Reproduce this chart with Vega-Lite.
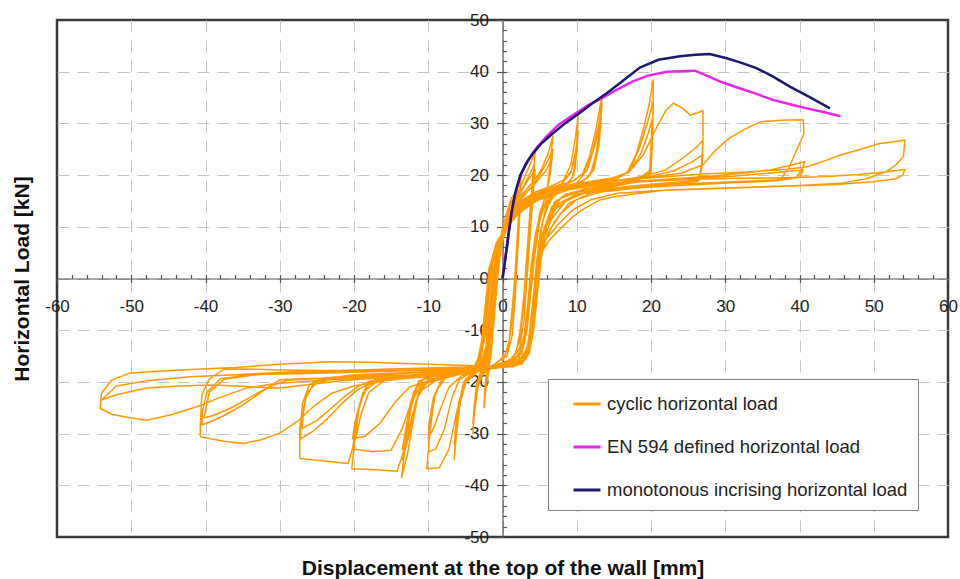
{
"$schema":"https://vega.github.io/schema/vega-lite/v6.json",
"width":891,"height":517,
"autosize":{"type":"none"},
"padding":{"left":57,"top":20,"right":12,"bottom":42},
"background":"white",
"config":{"view":{"stroke":"#3a3a3a","strokeWidth":2.5},"font":"Liberation Sans"},
"resolve":{"axis":{"x":"independent","y":"independent"}},
"datasets":{
"mono":[{"x":0,"y":0},{"x":0.3,"y":3},{"x":0.6,"y":6},{"x":0.95,"y":10},{"x":1.3,"y":13.5},{"x":1.7,"y":16.5},{"x":2.4,"y":20},{"x":3.2,"y":22.3},{"x":4.1,"y":24.2},{"x":5.3,"y":26.2},{"x":6.8,"y":28.1},{"x":8.5,"y":30.1},{"x":10.4,"y":32},{"x":12.2,"y":34},{"x":14,"y":35.8},{"x":16,"y":38},{"x":18.5,"y":40.8},{"x":21,"y":42.3},{"x":23.9,"y":43},{"x":26,"y":43.3},{"x":27.9,"y":43.4},{"x":30.2,"y":42.6},{"x":32,"y":41.8},{"x":34.2,"y":40.7},{"x":36.5,"y":39},{"x":38.7,"y":37.1},{"x":41.5,"y":35},{"x":44.1,"y":32.9}],
"en594":[{"x":0,"y":0},{"x":0.3,"y":3},{"x":0.6,"y":6.5},{"x":1,"y":10.5},{"x":1.4,"y":14},{"x":1.9,"y":17.5},{"x":2.6,"y":20.5},{"x":3.5,"y":23},{"x":4.6,"y":25.3},{"x":6,"y":27.6},{"x":7.6,"y":29.8},{"x":9.5,"y":31.6},{"x":11.5,"y":33.5},{"x":13.5,"y":35},{"x":15.5,"y":36.6},{"x":17.5,"y":38.1},{"x":19.5,"y":39.2},{"x":22.1,"y":40},{"x":25.9,"y":40.2},{"x":27.9,"y":39},{"x":29.5,"y":38},{"x":31.5,"y":37},{"x":34,"y":35.8},{"x":36.5,"y":34.5},{"x":39,"y":33.6},{"x":41,"y":32.9},{"x":43.5,"y":32.1},{"x":45.5,"y":31.4}],
"cyclic":[
{"x":0,"y":0},{"x":0.3,"y":4},{"x":0.7,"y":8},{"x":1.1,"y":12},{"x":1.6,"y":15.5},{"x":2.1,"y":18},{"x":2.5,"y":20},
{"x":2.3,"y":15},{"x":2,"y":8},{"x":1.7,"y":1},{"x":1.3,"y":-6},{"x":0.9,"y":-12},{"x":0.3,"y":-15},{"x":-0.8,"y":-16.3},{"x":-1.8,"y":-17.5},{"x":-2.2,"y":-21},{"x":-2.5,"y":-25},
{"x":-2.3,"y":-20},{"x":-1.8,"y":-16.5},{"x":-1.4,"y":-11},{"x":-1,"y":-4},{"x":-0.6,"y":3},{"x":-0.1,"y":9},{"x":0.5,"y":12.5},{"x":1.2,"y":15.5},{"x":1.9,"y":17},{"x":2.4,"y":18.5},
{"x":2.2,"y":13},{"x":1.9,"y":6},{"x":1.6,"y":-2},{"x":1.2,"y":-9},{"x":0.7,"y":-14},{"x":-0.5,"y":-16},{"x":-1.7,"y":-17.2},{"x":-2.1,"y":-19.5},{"x":-2.4,"y":-22},
{"x":-2.2,"y":-18.5},{"x":-1.6,"y":-15.5},{"x":-1.2,"y":-9},{"x":-0.8,"y":-2},{"x":-0.3,"y":5},{"x":0.3,"y":10},{"x":1,"y":14},{"x":1.8,"y":16.5},{"x":2.5,"y":17.5},
{"x":2.3,"y":12},{"x":2,"y":4},{"x":1.7,"y":-4},{"x":1.3,"y":-11},{"x":0.6,"y":-15},{"x":-0.7,"y":-16.2},{"x":-1.9,"y":-17.5},{"x":-2.3,"y":-21},
{"x":-2.1,"y":-17.5},{"x":-1.5,"y":-14},{"x":-1.1,"y":-7},{"x":-0.6,"y":1},{"x":0,"y":8},{"x":0.8,"y":12.5},
{"x":1.8,"y":15.5},{"x":2.8,"y":19},{"x":3.7,"y":22},{"x":4.4,"y":24.5},
{"x":4.1,"y":20},{"x":3.7,"y":13},{"x":3.3,"y":5},{"x":2.9,"y":-3},{"x":2.4,"y":-10},{"x":1.8,"y":-14.5},{"x":0.8,"y":-16},{"x":-1,"y":-16.8},{"x":-2.5,"y":-17.8},{"x":-3.3,"y":-21},{"x":-3.8,"y":-26},{"x":-4,"y":-30},
{"x":-3.7,"y":-24},{"x":-3.2,"y":-19},{"x":-2.2,"y":-17},{"x":-1.6,"y":-14},{"x":-1.2,"y":-7},{"x":-0.8,"y":0},{"x":-0.2,"y":6},{"x":0.6,"y":11},{"x":1.6,"y":14.5},{"x":2.7,"y":17.5},{"x":3.6,"y":20},{"x":4.3,"y":22},
{"x":4,"y":17.5},{"x":3.6,"y":10},{"x":3.2,"y":2},{"x":2.8,"y":-6},{"x":2.3,"y":-12},{"x":1.5,"y":-15.3},{"x":0,"y":-16.4},{"x":-1.8,"y":-17.3},{"x":-3,"y":-19},{"x":-3.6,"y":-23},{"x":-4,"y":-28},
{"x":-3.6,"y":-22},{"x":-3,"y":-18},{"x":-2,"y":-16.5},{"x":-1.5,"y":-12},{"x":-1.1,"y":-5},{"x":-0.6,"y":2},{"x":0,"y":8},{"x":0.9,"y":12.5},{"x":2,"y":15.5},{"x":3.2,"y":18.5},{"x":4.4,"y":21},
{"x":4.1,"y":16},{"x":3.7,"y":8},{"x":3.3,"y":0},{"x":2.9,"y":-8},{"x":2.3,"y":-13.5},{"x":1.2,"y":-15.8},{"x":-0.5,"y":-16.6},{"x":-2.2,"y":-17.6},{"x":-3.2,"y":-20},{"x":-3.9,"y":-26},
{"x":-3.5,"y":-20.5},{"x":-2.8,"y":-17.5},{"x":-1.8,"y":-16},{"x":-1.4,"y":-10},{"x":-1,"y":-3},{"x":-0.5,"y":4},{"x":0.2,"y":9},{"x":1.2,"y":13},
{"x":2.5,"y":16},{"x":4,"y":18.5},{"x":5.2,"y":21},{"x":6.1,"y":24},{"x":6.8,"y":27.5},
{"x":6.4,"y":22},{"x":6,"y":17},{"x":5.3,"y":13.5},{"x":4.5,"y":9},{"x":3.9,"y":3},{"x":3.4,"y":-5},{"x":2.9,"y":-11},{"x":2.2,"y":-15},{"x":0.5,"y":-16.5},{"x":-2,"y":-17.2},{"x":-4,"y":-18},{"x":-5.2,"y":-20},{"x":-5.8,"y":-25},{"x":-6.3,"y":-30},{"x":-6.5,"y":-35},
{"x":-6.2,"y":-30},{"x":-5.7,"y":-24},{"x":-4.8,"y":-19.5},{"x":-3,"y":-17.5},{"x":-2,"y":-16.3},{"x":-1.5,"y":-11},{"x":-1.1,"y":-4},{"x":-0.6,"y":3},{"x":0.1,"y":8.5},{"x":1,"y":12.5},{"x":2.3,"y":15.5},{"x":3.8,"y":17.5},{"x":5,"y":20},{"x":6,"y":22.5},{"x":6.8,"y":25},
{"x":6.4,"y":20},{"x":5.8,"y":16},{"x":5,"y":12.5},{"x":4.3,"y":7},{"x":3.8,"y":0},{"x":3.3,"y":-8},{"x":2.7,"y":-13.5},{"x":1.5,"y":-15.8},{"x":-1,"y":-16.7},{"x":-3.5,"y":-17.8},{"x":-5,"y":-19.5},{"x":-5.8,"y":-24},{"x":-6.5,"y":-32},
{"x":-6,"y":-26},{"x":-5.3,"y":-21},{"x":-4,"y":-18.5},{"x":-2.5,"y":-17},{"x":-1.7,"y":-14},{"x":-1.3,"y":-7},{"x":-0.8,"y":0},{"x":-0.2,"y":6},{"x":0.7,"y":11},{"x":2,"y":14.5},{"x":3.5,"y":17},{"x":4.8,"y":19},{"x":5.9,"y":21},{"x":6.7,"y":23.5},
{"x":6.3,"y":19},{"x":5.6,"y":15},{"x":4.8,"y":11},{"x":4.2,"y":5},{"x":3.7,"y":-2},{"x":3.2,"y":-10},{"x":2.5,"y":-14.5},{"x":1,"y":-16},{"x":-1.5,"y":-17},{"x":-4,"y":-18.2},{"x":-5.3,"y":-20.5},{"x":-6,"y":-25},{"x":-6.4,"y":-30},
{"x":-5.9,"y":-24},{"x":-5,"y":-19.5},{"x":-3.5,"y":-17.8},{"x":-2.2,"y":-16.5},{"x":-1.6,"y":-12},{"x":-1.2,"y":-5},{"x":-0.7,"y":2},{"x":0,"y":8},{"x":1,"y":12},
{"x":2.5,"y":15},{"x":4.5,"y":16.8},{"x":6.5,"y":17.8},{"x":8.2,"y":19},{"x":9.2,"y":22},{"x":9.8,"y":27},{"x":10.2,"y":31.6},
{"x":10,"y":26},{"x":9.6,"y":20},{"x":8.5,"y":17.8},{"x":7,"y":16.5},{"x":5.5,"y":14},{"x":4.6,"y":9},{"x":4,"y":2},{"x":3.5,"y":-6},{"x":3,"y":-12},{"x":2.2,"y":-15.5},{"x":0,"y":-16.7},{"x":-3,"y":-17.5},{"x":-6,"y":-18.3},{"x":-8,"y":-19},{"x":-9.2,"y":-23},{"x":-9.8,"y":-30},{"x":-10.2,"y":-36.8},
{"x":-8.5,"y":-36.6},{"x":-7.2,"y":-33},{"x":-6.2,"y":-26},{"x":-5.2,"y":-20.5},{"x":-3.5,"y":-18.2},{"x":-2.2,"y":-16.8},{"x":-1.6,"y":-12},{"x":-1.2,"y":-5},{"x":-0.7,"y":2},{"x":0,"y":7.5},{"x":1.2,"y":12},{"x":3,"y":15.2},{"x":5.5,"y":17},{"x":8,"y":18.3},{"x":9.3,"y":21},{"x":9.9,"y":25},{"x":10.2,"y":28.5},
{"x":9.9,"y":23},{"x":9.4,"y":19.5},{"x":8,"y":17.5},{"x":6.5,"y":16},{"x":5.2,"y":12.5},{"x":4.4,"y":6},{"x":3.9,"y":-1},{"x":3.4,"y":-8},{"x":2.8,"y":-13.5},{"x":1.5,"y":-16},{"x":-1.5,"y":-17},{"x":-4.5,"y":-17.8},{"x":-7.5,"y":-18.8},{"x":-9,"y":-22},{"x":-9.7,"y":-28},{"x":-10,"y":-33.5},
{"x":-9,"y":-33},{"x":-7.8,"y":-29},{"x":-6.8,"y":-23},{"x":-5.8,"y":-19.5},{"x":-4,"y":-18},{"x":-2.5,"y":-16.8},{"x":-1.8,"y":-13},{"x":-1.4,"y":-6},{"x":-0.9,"y":1},{"x":-0.2,"y":7},{"x":0.9,"y":11.5},{"x":2.7,"y":15},{"x":5,"y":16.8},{"x":7.8,"y":18},{"x":9.2,"y":20.5},{"x":9.8,"y":23.5},{"x":10.1,"y":26.5},
{"x":9.8,"y":21.5},{"x":9.2,"y":18.8},{"x":7.6,"y":17.2},{"x":6,"y":15.6},{"x":5,"y":11},{"x":4.3,"y":4},{"x":3.8,"y":-3},{"x":3.3,"y":-10},{"x":2.6,"y":-14.5},{"x":1,"y":-16.3},{"x":-2,"y":-17.2},{"x":-5,"y":-18},{"x":-8,"y":-19},{"x":-9.3,"y":-23},{"x":-9.8,"y":-27},{"x":-10,"y":-31},
{"x":-9.3,"y":-29},{"x":-8.3,"y":-25},{"x":-7.2,"y":-21},{"x":-5.5,"y":-18.8},{"x":-3.5,"y":-17.7},{"x":-2.3,"y":-16.5},{"x":-1.7,"y":-11},{"x":-1.3,"y":-4},{"x":-0.8,"y":3},{"x":0,"y":8.5},{"x":1.3,"y":12.5},
{"x":3.5,"y":15.5},{"x":6.5,"y":17.5},{"x":9.5,"y":18.8},{"x":10.8,"y":20.3},{"x":11.8,"y":24},{"x":12.6,"y":29},{"x":13.1,"y":33},{"x":13.4,"y":35.5},
{"x":13.2,"y":30},{"x":12.6,"y":24},{"x":11.8,"y":20},{"x":10,"y":18},{"x":8,"y":17},{"x":6.5,"y":15.5},{"x":5.4,"y":11},{"x":4.7,"y":4},{"x":4.2,"y":-4},{"x":3.7,"y":-11},{"x":3.1,"y":-15},{"x":1.5,"y":-16.6},{"x":-2,"y":-17.4},{"x":-6,"y":-18},{"x":-9.5,"y":-18.8},{"x":-11.3,"y":-20},{"x":-12.3,"y":-25},{"x":-13,"y":-31},{"x":-13.6,"y":-38.5},
{"x":-12.8,"y":-34},{"x":-12.1,"y":-28},{"x":-11.3,"y":-22},{"x":-10,"y":-19.5},{"x":-7,"y":-18.8},{"x":-4.5,"y":-18},{"x":-2.6,"y":-17},{"x":-1.8,"y":-13},{"x":-1.4,"y":-6},{"x":-0.9,"y":1},{"x":-0.2,"y":7},{"x":1,"y":11.5},{"x":3,"y":15},{"x":6,"y":17.3},{"x":9.5,"y":18.8},{"x":11,"y":20.5},{"x":12.2,"y":25},{"x":13,"y":30},{"x":13.4,"y":34},
{"x":13.1,"y":28},{"x":12.4,"y":22},{"x":11.5,"y":19.5},{"x":9.5,"y":18},{"x":7.5,"y":16.8},{"x":6,"y":14.5},{"x":5.1,"y":9},{"x":4.5,"y":2},{"x":4,"y":-6},{"x":3.5,"y":-12.5},{"x":2.7,"y":-15.5},{"x":0.5,"y":-16.8},{"x":-3,"y":-17.5},{"x":-7,"y":-18.2},{"x":-10.5,"y":-19.2},{"x":-12,"y":-22},{"x":-12.8,"y":-28},{"x":-13.5,"y":-35},
{"x":-12.7,"y":-31},{"x":-11.9,"y":-25.5},{"x":-11,"y":-21},{"x":-9,"y":-19.3},{"x":-6,"y":-18.5},{"x":-3.5,"y":-17.5},{"x":-2.3,"y":-16},{"x":-1.7,"y":-10},{"x":-1.3,"y":-3},{"x":-0.7,"y":4},{"x":0.3,"y":9},{"x":1.8,"y":13},{"x":4,"y":15.8},{"x":7,"y":17.3},{"x":10,"y":18.5},{"x":11.4,"y":21},{"x":12.5,"y":26},{"x":13.3,"y":31},
{"x":13,"y":26},{"x":12.3,"y":21},{"x":11,"y":19},{"x":9,"y":17.5},{"x":7,"y":16.2},{"x":5.7,"y":13},{"x":4.9,"y":7},{"x":4.4,"y":0},{"x":3.9,"y":-8},{"x":3.3,"y":-13.5},{"x":2.2,"y":-16},{"x":-1,"y":-17},{"x":-4.5,"y":-17.8},{"x":-8.5,"y":-18.6},{"x":-11.3,"y":-19.8},{"x":-12.4,"y":-24},{"x":-13,"y":-29},{"x":-13.5,"y":-33},
{"x":-12.6,"y":-29},{"x":-11.6,"y":-23.5},{"x":-10.2,"y":-20},{"x":-7.5,"y":-18.8},{"x":-4.5,"y":-18},{"x":-2.7,"y":-16.8},{"x":-1.9,"y":-12},{"x":-1.5,"y":-5},{"x":-1,"y":2},{"x":-0.3,"y":7.5},{"x":0.8,"y":11.5},
{"x":2.6,"y":14.5},{"x":5,"y":16.5},{"x":8,"y":17.8},{"x":12,"y":18.8},{"x":15,"y":19.5},{"x":16.8,"y":20.5},{"x":18,"y":24},{"x":19,"y":29},{"x":19.8,"y":34},{"x":20.3,"y":38.4},
{"x":20.3,"y":33},{"x":20.2,"y":27},{"x":20,"y":20.5},{"x":18,"y":19.2},{"x":15,"y":18.3},{"x":12,"y":17.5},{"x":9,"y":16.5},{"x":7,"y":14.8},{"x":5.8,"y":10},{"x":5,"y":3},{"x":4.5,"y":-5},{"x":4,"y":-11},{"x":3.4,"y":-15},{"x":2,"y":-16.8},{"x":-2,"y":-17.5},{"x":-7,"y":-18},{"x":-12,"y":-18.6},{"x":-16,"y":-19.2},{"x":-18.2,"y":-20},{"x":-19.3,"y":-25},{"x":-19.9,"y":-31},{"x":-20.3,"y":-36.8},
{"x":-17,"y":-37},{"x":-14.2,"y":-37.3},{"x":-13,"y":-32},{"x":-12.2,"y":-27},{"x":-11.3,"y":-22},{"x":-9,"y":-19.8},{"x":-6,"y":-18.6},{"x":-3.5,"y":-17.5},{"x":-2.3,"y":-16},{"x":-1.7,"y":-10},{"x":-1.3,"y":-3},{"x":-0.7,"y":4},{"x":0.4,"y":9},{"x":2,"y":13},{"x":4.5,"y":15.8},{"x":8,"y":17.5},{"x":12,"y":18.5},{"x":15.5,"y":19.3},{"x":17.2,"y":21},{"x":18.5,"y":25.5},{"x":19.6,"y":30.5},{"x":20.3,"y":34.2},
{"x":20.2,"y":29},{"x":20,"y":21},{"x":18,"y":19},{"x":15,"y":18},{"x":11.5,"y":17.2},{"x":8.5,"y":16.3},{"x":6.6,"y":13.8},{"x":5.5,"y":8},{"x":4.8,"y":1},{"x":4.3,"y":-7},{"x":3.8,"y":-12.5},{"x":3,"y":-15.8},{"x":1,"y":-17},{"x":-3,"y":-17.7},{"x":-8,"y":-18.3},{"x":-13,"y":-19},{"x":-16.8,"y":-19.8},{"x":-18.8,"y":-22},{"x":-19.6,"y":-27},{"x":-20.2,"y":-33},
{"x":-17.5,"y":-33.5},{"x":-15,"y":-33.2},{"x":-13.5,"y":-29},{"x":-12.3,"y":-24},{"x":-11,"y":-20.6},{"x":-8,"y":-19.3},{"x":-5,"y":-18.3},{"x":-3,"y":-17},{"x":-2,"y":-13},{"x":-1.6,"y":-6},{"x":-1.1,"y":1},{"x":-0.4,"y":6.5},{"x":0.9,"y":11},{"x":3,"y":14.8},{"x":6.5,"y":17},{"x":10.5,"y":18.3},{"x":14.5,"y":19.2},{"x":17,"y":20.5},{"x":18.6,"y":24},{"x":19.6,"y":28},{"x":20.2,"y":31},
{"x":20,"y":26},{"x":19.8,"y":20},{"x":17.5,"y":18.5},{"x":14,"y":17.5},{"x":10.5,"y":16.8},{"x":7.8,"y":15.5},{"x":6.2,"y":12},{"x":5.3,"y":5},{"x":4.7,"y":-3},{"x":4.2,"y":-10},{"x":3.6,"y":-14.5},{"x":2.4,"y":-16.3},{"x":-1,"y":-17.2},{"x":-6,"y":-18},{"x":-11,"y":-18.7},{"x":-15.5,"y":-19.4},{"x":-18,"y":-20.5},{"x":-19.2,"y":-24},{"x":-19.9,"y":-28},{"x":-20.2,"y":-31},
{"x":-18.5,"y":-30.5},{"x":-16.5,"y":-28},{"x":-14.5,"y":-24},{"x":-12.5,"y":-21},{"x":-10,"y":-19.8},{"x":-6.5,"y":-18.7},{"x":-3.8,"y":-17.6},{"x":-2.4,"y":-16},{"x":-1.8,"y":-9},{"x":-1.4,"y":-2},{"x":-0.8,"y":4},{"x":0.2,"y":8.5},{"x":1.6,"y":12.5},
{"x":4,"y":15.5},{"x":7.5,"y":17.5},{"x":11,"y":18.5},{"x":14.5,"y":19.3},{"x":17,"y":20.5},{"x":19,"y":24},{"x":20.5,"y":28.5},{"x":22,"y":32.5},{"x":23,"y":33.9},{"x":24.2,"y":33},{"x":25.3,"y":31.6},{"x":26.2,"y":32},{"x":27,"y":32.5},
{"x":27,"y":28.5},{"x":27,"y":26.8},{"x":26.8,"y":22},{"x":26.6,"y":19.7},{"x":23,"y":19.2},{"x":19,"y":18.8},{"x":15,"y":18},{"x":11,"y":17.3},{"x":8,"y":15.8},{"x":6.3,"y":12.5},{"x":5.2,"y":8},{"x":4.5,"y":2},{"x":4,"y":-6},{"x":3.6,"y":-12},{"x":3,"y":-15.5},{"x":1.5,"y":-17},{"x":-3,"y":-17.6},{"x":-9,"y":-18},{"x":-15,"y":-18.5},{"x":-20,"y":-18.8},{"x":-24,"y":-19.2},{"x":-26,"y":-20.5},{"x":-26.9,"y":-24},{"x":-27.3,"y":-29},{"x":-27.3,"y":-34.8},
{"x":-24,"y":-35.3},{"x":-20.8,"y":-35.8},{"x":-19.8,"y":-31},{"x":-19,"y":-26},{"x":-18,"y":-22},{"x":-16,"y":-19.8},{"x":-12,"y":-19.2},{"x":-8,"y":-18.7},{"x":-5,"y":-18},{"x":-3,"y":-17},{"x":-2.2,"y":-13},{"x":-1.8,"y":-6},{"x":-1.3,"y":1},{"x":-0.6,"y":6.5},{"x":0.8,"y":11},{"x":3,"y":14.5},{"x":7,"y":16.8},{"x":11,"y":18},{"x":15,"y":18.8},{"x":19,"y":19.8},{"x":22,"y":21},{"x":24.5,"y":23.5},{"x":26.2,"y":25.5},{"x":27,"y":26.8},
{"x":26.9,"y":23},{"x":26.5,"y":19},{"x":22.5,"y":18.5},{"x":18,"y":18},{"x":13.5,"y":17.2},{"x":10,"y":16.3},{"x":7.6,"y":14.5},{"x":6,"y":11},{"x":5,"y":6},{"x":4.4,"y":0},{"x":3.9,"y":-7},{"x":3.5,"y":-12.5},{"x":2.9,"y":-15.5},{"x":1.5,"y":-16.8},{"x":-2,"y":-17.4},{"x":-8,"y":-17.9},{"x":-14,"y":-18.3},{"x":-20,"y":-18.6},{"x":-24.5,"y":-19.5},{"x":-26.3,"y":-22},{"x":-27.1,"y":-27},{"x":-27.2,"y":-31},
{"x":-25.5,"y":-29.5},{"x":-23.5,"y":-27},{"x":-21.5,"y":-24},{"x":-19.5,"y":-21.5},{"x":-17,"y":-19.7},{"x":-13,"y":-19},{"x":-9,"y":-18.5},{"x":-5.5,"y":-18},{"x":-3.2,"y":-16.8},{"x":-2.3,"y":-11},{"x":-1.9,"y":-4},{"x":-1.4,"y":2.5},{"x":-0.5,"y":7.5},{"x":1,"y":11.5},{"x":3.5,"y":15},{"x":7.5,"y":17},{"x":11.5,"y":18.2},{"x":16,"y":19},{"x":20,"y":19.8},{"x":23,"y":20.8},{"x":25.5,"y":22.5},{"x":27,"y":24},
{"x":26.8,"y":21},{"x":26.3,"y":18.8},{"x":22,"y":18.2},{"x":17.5,"y":17.7},{"x":13,"y":17},{"x":9.5,"y":16},{"x":7.2,"y":13.5},{"x":5.7,"y":9.5},{"x":4.8,"y":4},{"x":4.3,"y":-3},{"x":3.8,"y":-10},{"x":3.4,"y":-14},{"x":2.6,"y":-16.2},{"x":-0.5,"y":-17.2},{"x":-5,"y":-17.7},{"x":-11,"y":-18.1},{"x":-17,"y":-18.5},{"x":-22,"y":-19},{"x":-25.5,"y":-20.5},{"x":-26.6,"y":-23.5},{"x":-27,"y":-29},
{"x":-25,"y":-27.5},{"x":-23,"y":-25},{"x":-21,"y":-22.5},{"x":-19,"y":-20.5},{"x":-16,"y":-19.5},{"x":-12,"y":-18.9},{"x":-8,"y":-18.5},{"x":-5,"y":-17.8},{"x":-3,"y":-16.5},{"x":-2.3,"y":-10},{"x":-1.9,"y":-3},{"x":-1.3,"y":3},{"x":-0.3,"y":8},{"x":1.5,"y":12},
{"x":4.5,"y":15.8},{"x":9,"y":17.8},{"x":14,"y":18.8},{"x":19,"y":19.5},{"x":24,"y":20.3},{"x":27,"y":22},{"x":28.5,"y":24.5},{"x":30.2,"y":26.8},{"x":32.5,"y":28.8},{"x":34.7,"y":30.3},{"x":37.5,"y":30.6},{"x":40.5,"y":30.7},
{"x":40.6,"y":28},{"x":39.6,"y":24.8},{"x":38.6,"y":21.5},{"x":37.4,"y":19.1},{"x":33,"y":18.8},{"x":28,"y":18.5},{"x":22,"y":18.2},{"x":16,"y":17.6},{"x":11.5,"y":16.8},{"x":8.5,"y":15},{"x":6.6,"y":11.5},{"x":5.4,"y":7},{"x":4.7,"y":1.5},{"x":4.2,"y":-6},{"x":3.7,"y":-12},{"x":3.2,"y":-15.3},{"x":2,"y":-16.7},{"x":-1,"y":-17.3},{"x":-8,"y":-17.5},{"x":-16,"y":-17.8},{"x":-24,"y":-17.8},{"x":-30,"y":-17.7},{"x":-35,"y":-17.5},{"x":-37.6,"y":-17.6},{"x":-39.5,"y":-19.5},{"x":-40.5,"y":-22.5},{"x":-40.7,"y":-28.3},{"x":-40.7,"y":-30.6},
{"x":-37.5,"y":-31.5},{"x":-34.9,"y":-31.9},{"x":-32.5,"y":-31.2},{"x":-30,"y":-29.9},{"x":-27.5,"y":-27.5},{"x":-25.5,"y":-24.8},{"x":-23,"y":-22.2},{"x":-20,"y":-20.8},{"x":-16,"y":-19.8},{"x":-12,"y":-19.2},{"x":-8,"y":-18.8},{"x":-5,"y":-18.2},{"x":-3.2,"y":-17},{"x":-2.5,"y":-12},{"x":-2.1,"y":-5},{"x":-1.6,"y":2},{"x":-0.7,"y":7},{"x":1,"y":11.5},{"x":3.8,"y":15},{"x":8,"y":17.2},{"x":13,"y":18.3},{"x":18,"y":18.8},{"x":23,"y":19.3},{"x":28,"y":19.8},{"x":32,"y":20.3},{"x":36,"y":21},{"x":38.5,"y":21.8},{"x":40.7,"y":22.6},
{"x":40.3,"y":21},{"x":39.5,"y":19.5},{"x":35,"y":18.8},{"x":29,"y":18.5},{"x":23,"y":18.1},{"x":17,"y":17.6},{"x":12,"y":16.6},{"x":9,"y":14.6},{"x":7,"y":11},{"x":5.8,"y":7.5},{"x":5,"y":3},{"x":4.5,"y":-3},{"x":4,"y":-9.5},{"x":3.5,"y":-14},{"x":2.6,"y":-16.3},{"x":-0.5,"y":-17.2},{"x":-7,"y":-17.6},{"x":-14,"y":-17.9},{"x":-21,"y":-18.2},{"x":-28,"y":-18.4},{"x":-34,"y":-18.6},{"x":-38,"y":-19.4},{"x":-39.8,"y":-22},{"x":-40.4,"y":-25.5},{"x":-40.5,"y":-28.3},
{"x":-39.8,"y":-28},{"x":-37.5,"y":-26.5},{"x":-35,"y":-24.5},{"x":-32.5,"y":-22},{"x":-30,"y":-19.6},{"x":-25,"y":-19.3},{"x":-19,"y":-19},{"x":-13,"y":-18.7},{"x":-8,"y":-18.4},{"x":-5,"y":-17.9},{"x":-3.3,"y":-16.8},{"x":-2.6,"y":-11},{"x":-2.1,"y":-4},{"x":-1.5,"y":2.5},{"x":-0.5,"y":7.5},{"x":1.5,"y":12},{"x":4.5,"y":15.3},{"x":9,"y":17.3},{"x":14,"y":18.3},{"x":20,"y":18.9},{"x":26,"y":19.4},{"x":31,"y":19.8},{"x":36,"y":20.4},{"x":40.5,"y":21},
{"x":40,"y":19.6},{"x":37,"y":18.9},{"x":31,"y":18.5},{"x":25,"y":18.1},{"x":19,"y":17.6},{"x":13.5,"y":16.8},{"x":10,"y":15.3},{"x":7.8,"y":12.5},{"x":6.2,"y":9},{"x":5.2,"y":5},{"x":4.7,"y":0},{"x":4.2,"y":-7.5},{"x":3.7,"y":-12.5},{"x":3.2,"y":-15.5},{"x":1.5,"y":-16.9},{"x":-2,"y":-17.3},{"x":-6,"y":-17.5},{"x":-13,"y":-17.8},{"x":-20,"y":-18},{"x":-27,"y":-18.2},{"x":-33,"y":-18.6},{"x":-37.5,"y":-19.5},{"x":-39.5,"y":-22},{"x":-40.2,"y":-27},
{"x":-39,"y":-26.5},{"x":-36.5,"y":-25},{"x":-34,"y":-23},{"x":-31.5,"y":-21},{"x":-29,"y":-19.7},{"x":-24,"y":-19.3},{"x":-18,"y":-19},{"x":-12,"y":-18.7},{"x":-7,"y":-18.3},{"x":-4,"y":-17.6},{"x":-2.9,"y":-15},{"x":-2.4,"y":-8},{"x":-1.9,"y":-1},{"x":-1.1,"y":5},{"x":0.3,"y":9.5},{"x":2.8,"y":13.5},
{"x":6.5,"y":16.5},{"x":11,"y":18},{"x":16,"y":19},{"x":21,"y":19.6},{"x":27,"y":20.2},{"x":33,"y":20.6},{"x":38,"y":21.1},{"x":41,"y":21.6},{"x":43.5,"y":22.8},{"x":45.5,"y":23.9},{"x":48,"y":24.9},{"x":50.8,"y":26.1},{"x":52.5,"y":26.4},{"x":54.2,"y":26.8},
{"x":54.1,"y":25.2},{"x":54,"y":23.6},{"x":53,"y":22},{"x":51.7,"y":20.7},{"x":49,"y":19.3},{"x":45.5,"y":18.4},{"x":40,"y":18},{"x":34,"y":17.7},{"x":28,"y":17.4},{"x":22,"y":17.1},{"x":18.5,"y":16.5},{"x":15,"y":15.8},{"x":13.1,"y":15.2},{"x":11,"y":13.5},{"x":9.5,"y":12},{"x":7.7,"y":9.5},{"x":6.2,"y":7.2},{"x":5,"y":4.5},{"x":4.6,"y":0},{"x":4.2,"y":-7},{"x":3.7,"y":-12.5},{"x":3.3,"y":-15},{"x":2.5,"y":-16.6},{"x":-1,"y":-17},{"x":-6,"y":-16.8},{"x":-12,"y":-16.5},{"x":-18,"y":-16.2},{"x":-23.2,"y":-16.1},{"x":-30,"y":-16.6},{"x":-36,"y":-17.2},{"x":-42,"y":-17.6},{"x":-47,"y":-18},{"x":-50.2,"y":-18.3},{"x":-52.6,"y":-19.6},{"x":-54,"y":-22.2},{"x":-54.2,"y":-25.1},
{"x":-52.5,"y":-26.3},{"x":-50,"y":-27},{"x":-47.9,"y":-27.4},{"x":-44.5,"y":-26.3},{"x":-41.2,"y":-24.8},{"x":-38,"y":-23},{"x":-34.5,"y":-21.2},{"x":-31,"y":-20.4},{"x":-27.7,"y":-20},{"x":-23,"y":-19.6},{"x":-18,"y":-19.2},{"x":-13,"y":-18.8},{"x":-8,"y":-18.4},{"x":-5,"y":-18},{"x":-3.5,"y":-17},{"x":-2.8,"y":-12},{"x":-2.3,"y":-5},{"x":-1.8,"y":2},{"x":-0.8,"y":7},{"x":1.2,"y":11.5},{"x":4.5,"y":15},{"x":9,"y":17.2},{"x":14,"y":18.3},{"x":20,"y":18.8},{"x":26,"y":19.2},{"x":32,"y":19.4},{"x":38,"y":19.5},{"x":43,"y":19.7},{"x":48,"y":20.1},{"x":51.5,"y":20.6},{"x":54.2,"y":21.1},
{"x":53.9,"y":20},{"x":53,"y":19.3},{"x":49.9,"y":18.7},{"x":45,"y":18.2},{"x":39,"y":17.9},{"x":33,"y":17.6},{"x":27,"y":17.3},{"x":21,"y":17},{"x":15.5,"y":16.5},{"x":12,"y":15.3},{"x":9.5,"y":13.3},{"x":7.5,"y":10.5},{"x":5.8,"y":7.5},{"x":5,"y":4},{"x":4.5,"y":-2},{"x":4,"y":-9},{"x":3.5,"y":-14},{"x":2.7,"y":-16.5},{"x":-2,"y":-17},{"x":-8,"y":-17.2},{"x":-15,"y":-17.5},{"x":-22,"y":-17.8},{"x":-29,"y":-18.1},{"x":-36,"y":-18.6},{"x":-42,"y":-19},{"x":-48,"y":-19.8},{"x":-52,"y":-20.8},{"x":-54,"y":-23.5},
{"x":-52,"y":-22.5},{"x":-47.9,"y":-21.2},{"x":-43.5,"y":-20.8},{"x":-39,"y":-20.6},{"x":-34.5,"y":-20.9},{"x":-30,"y":-21.2},{"x":-26,"y":-20.5},{"x":-21,"y":-19.7},{"x":-16,"y":-19.2},{"x":-11,"y":-18.8},{"x":-7,"y":-18.3},{"x":-4,"y":-17.6},{"x":-2.8,"y":-14},{"x":-2.4,"y":-8}
]},
"layer":[
{"data":{"name":"cyclic"},
 "mark":{"type":"line","strokeWidth":1.5,"strokeJoin":"round"},
 "encoding":{
  "x":{"field":"x","type":"quantitative","scale":{"domain":[-60,60],"nice":false,"zero":false},
   "axis":{"orient":"bottom","values":[-50,-40,-30,-20,-10,0,10,20,30,40,50],"grid":true,"gridColor":"#c4c4c4","gridDash":[12,8],"gridWidth":1,"domain":false,"ticks":false,"labels":false,
    "title":"Displacement at the top of the wall [mm]","titleFont":"Liberation Sans","titleFontSize":21,"titleFontWeight":"bold","titleColor":"#111","titlePadding":20}},
  "y":{"field":"y","type":"quantitative","scale":{"domain":[-50,50],"nice":false,"zero":false},
   "axis":{"orient":"left","values":[-40,-30,-20,-10,0,10,20,30,40],"grid":true,"gridColor":"#c4c4c4","gridDash":[12,8],"gridWidth":1,"domain":false,"ticks":false,"labels":false,
    "title":"Horizontal Load [kN]","titleFont":"Liberation Sans","titleFontSize":21,"titleFontWeight":"bold","titleColor":"#111","titlePadding":25}},
  "color":{"datum":"cyclic horizontal load","type":"nominal",
   "scale":{"domain":["cyclic horizontal load","EN 594 defined horizontal load","monotonous incrising horizontal load"],"range":["#ff9900","#ee22ee","#1a1a70"]},
   "legend":{"orient":"none","legendX":491,"legendY":359,"title":null,"symbolType":"stroke","symbolSize":729,"symbolStrokeWidth":3,"labelFont":"Liberation Sans","labelFontSize":18.5,"labelColor":"#222","labelLimit":500,"labelOffset":5,"padding":10,"symbolOffset":14,"rowPadding":18,"strokeColor":"#808080","fillColor":"white"}},
  "order":{"value":null}
 }},
{"data":{"name":"en594"},
 "mark":{"type":"line","strokeWidth":2.5},
 "encoding":{
  "x":{"field":"x","type":"quantitative",
   "axis":{"orient":"bottom","offset":-258.5,"values":[-60,-50,-40,-30,-20,-10,0,10,20,30,40,50,60],"grid":false,"domain":true,"domainColor":"#555","domainWidth":1.2,"ticks":true,"tickSize":4,"tickColor":"#555","tickWidth":1.2,
    "labels":true,"labelFont":"Liberation Sans","labelFontSize":17,"labelColor":"#222","labelPadding":16,"labelFlush":false,"labelOverlap":false,"labelExpr":"'' + datum.value","title":null}},
  "y":{"field":"y","type":"quantitative",
   "axis":{"orient":"left","offset":-445.5,"values":[-50,-40,-30,-20,-10,0,10,20,30,40,50],"grid":false,"domain":true,"domainColor":"#555","domainWidth":1.2,"ticks":true,"tickSize":6,"tickColor":"#555","tickWidth":1.2,
    "labels":true,"labelFont":"Liberation Sans","labelFontSize":17,"labelColor":"#222","labelPadding":8,"labelFlush":false,"labelOverlap":false,"labelExpr":"'' + datum.value","title":null}},
  "color":{"datum":"EN 594 defined horizontal load","type":"nominal"},
  "order":{"value":null}
 }},
{"data":{"name":"mono"},
 "mark":{"type":"line","strokeWidth":2.5},
 "encoding":{
  "x":{"field":"x","type":"quantitative",
   "axis":{"orient":"top","offset":-258.5,"values":[-58,-56,-54,-52,-50,-48,-46,-44,-42,-40,-38,-36,-34,-32,-30,-28,-26,-24,-22,-20,-18,-16,-14,-12,-10,-8,-6,-4,-2,0,2,4,6,8,10,12,14,16,18,20,22,24,26,28,30,32,34,36,38,40,42,44,46,48,50,52,54,56,58],"grid":false,"domain":false,"ticks":true,"tickSize":4,"tickColor":"#555","tickWidth":1.2,"labels":false,"title":null}},
  "y":{"field":"y","type":"quantitative",
   "axis":{"orient":"right","offset":-445.5,"values":[-48,-46,-44,-42,-40,-38,-36,-34,-32,-30,-28,-26,-24,-22,-20,-18,-16,-14,-12,-10,-8,-6,-4,-2,0,2,4,6,8,10,12,14,16,18,20,22,24,26,28,30,32,34,36,38,40,42,44,46,48],"grid":false,"domain":false,"ticks":true,"tickSize":4,"tickColor":"#555","tickWidth":1.2,"labels":false,"title":null}},
  "color":{"datum":"monotonous incrising horizontal load","type":"nominal"},
  "order":{"value":null}
 }}
]
}
